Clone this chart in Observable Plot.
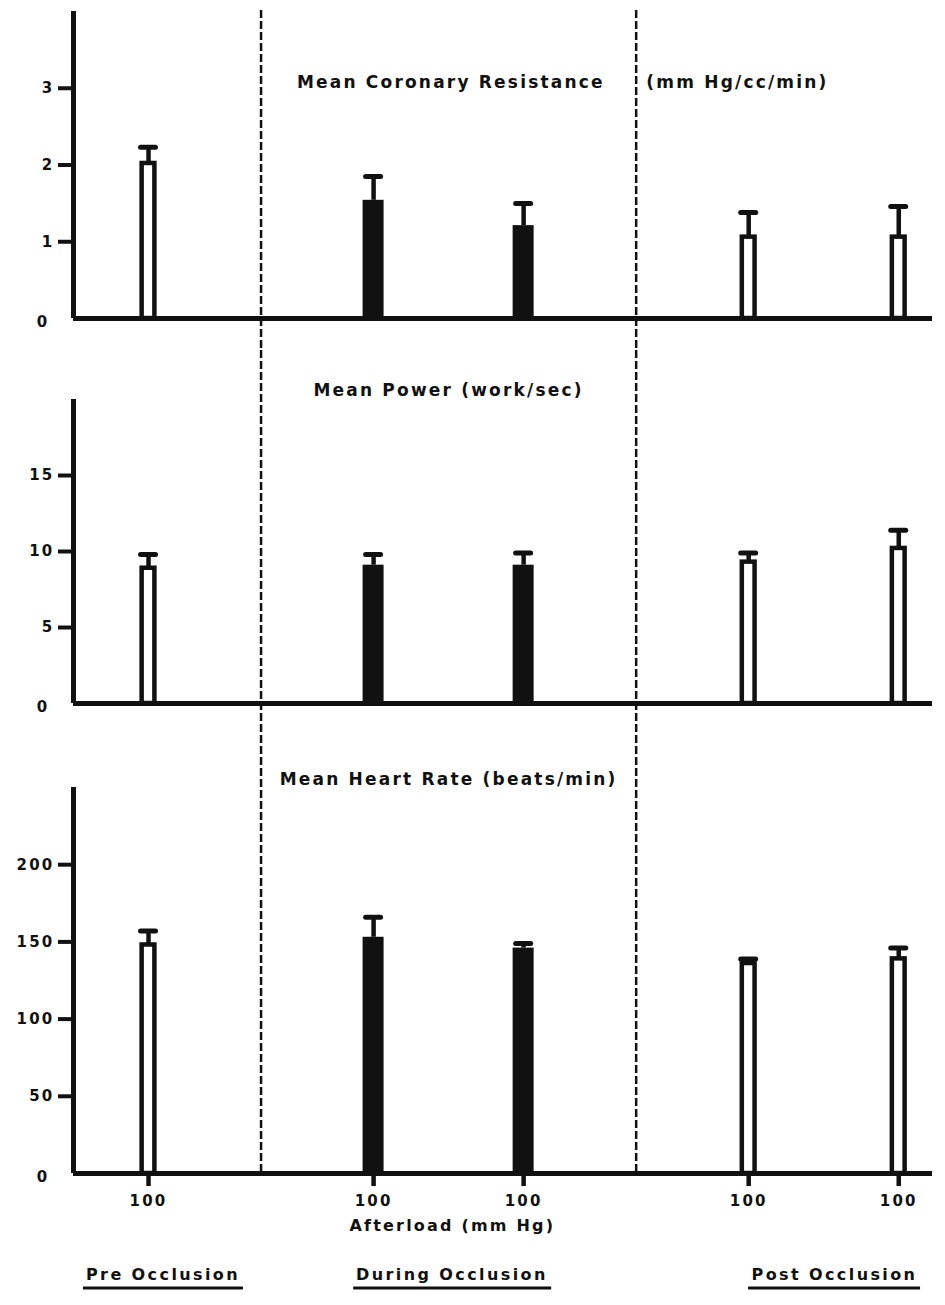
<!DOCTYPE html>
<html>
<head>
<meta charset="utf-8">
<script src="https://cdn.jsdelivr.net/npm/d3@7"></script>
<script src="https://cdn.jsdelivr.net/npm/@observablehq/plot@0.6"></script>
<style>
  body { margin: 0; background: #fff; }
  #chart { position: relative; width: 945px; background: #fff; }
  #chart svg { display: block; }
  #phases { position: relative; width: 945px; height: 60px; }
  #phases span {
    position: absolute; top: 32px; transform: translate(-50%, -50%);
    font-family: "DejaVu Sans", sans-serif; font-weight: bold; font-size: 16px;
    letter-spacing: 2.4px; color: #111; white-space: nowrap;
    border-bottom: 3px solid #111; padding: 0 3px 3px 3px;
  }
</style>
</head>
<body>
<div id="chart"></div>
<script>
// ---- data ----
const conditions = ["Pre 100", "During 100 (a)", "During 100 (b)", "Post 100 (a)", "Post 100 (b)"];
const slots = [2, 5, 7, 10, 12];               // x position of each condition
const afterload = [100, 100, 100, 100, 100];    // x tick labels (mm Hg)
const filled = [false, true, true, false, false];
const phaseBoundaries = [3.5, 8.5];
const phaseNames = ["Pre Occlusion", "During Occlusion", "Post Occlusion"];
const phaseLabelSlots = [2.2, 6.05, 11.15];

const resistanceMean = [2.02, 1.54, 1.21, 1.06, 1.06];
const resistanceErr  = [2.23, 1.85, 1.50, 1.38, 1.46];
const resistanceTicks = [0, 1, 2, 3];

const powerMean = [8.9, 9.1, 9.1, 9.3, 10.2];
const powerErr  = [9.8, 9.8, 9.9, 9.9, 11.4];
const powerTicks = [0, 5, 10, 15];

const heartMean = [148, 153, 146, 136, 139];
const heartErr  = [157, 166, 149, 139, 146];
const heartTicks = [0, 50, 100, 150, 200];

const INK = "#111";
const FONT = "DejaVu Sans, sans-serif";
const xDomain = [1, 12.45];
const X_TICK_PX = 13;

function panel(cfg) {
  const rows = slots.map((s, i) => ({
    condition: conditions[i], slot: s, mean: cfg.mean[i], err: cfg.err[i], filled: filled[i], afterload: afterload[i]
  }));
  const open = rows.filter(d => !d.filled);
  const solid = rows.filter(d => d.filled);
  const fmt = d => String(d);
  const unitsPerPx = cfg.yTop / (cfg.yRange[0] - cfg.yRange[1]);
  const marks = [
    Plot.ruleX(phaseBoundaries, {stroke: INK, strokeWidth: 2.5, strokeDasharray: "8,3"}),
    Plot.rect(open, {x1: d => d.slot - 0.085, x2: d => d.slot + 0.085, y1: 0, y2: "mean", fill: "white", stroke: INK, strokeWidth: 4.5}),
    Plot.rect(solid, {x1: d => d.slot - 0.14, x2: d => d.slot + 0.14, y1: 0, y2: "mean", fill: INK}),
    Plot.ruleX(rows, {x: "slot", y1: "mean", y2: "err", stroke: INK, strokeWidth: 4.5}),
    Plot.ruleY(rows, {y: "err", x1: d => d.slot - 0.1, x2: d => d.slot + 0.1, stroke: INK, strokeWidth: 5, strokeLinecap: "round"}),
    Plot.ruleX([xDomain[0]], {y1: 0, y2: cfg.yTop, stroke: INK, strokeWidth: 5}),
    Plot.ruleY([0], {x1: xDomain[0], x2: xDomain[1], stroke: INK, strokeWidth: 5}),
    Plot.axisY(cfg.ticks.filter(v => v !== 0), {tickSize: 15, tickPadding: 4, strokeWidth: 4, label: null, fontSize: 15, fill: INK, tickFormat: fmt}),
    Plot.axisY([0], {tickSize: 0, tickPadding: 24, label: null, fontSize: 15, dy: 4, fill: INK, tickFormat: fmt}),
    Plot.text(cfg.titles, {x: "x", y: "y", text: "text", fontSize: 17, fill: INK})
  ];
  if (cfg.xAxis) {
    marks.push(
      // tick marks hanging below the baseline under each bar
      Plot.ruleX(rows, {x: "slot", y1: 0, y2: -X_TICK_PX * unitsPerPx, stroke: INK, strokeWidth: 4.5}),
      Plot.axisX(slots, {tickSize: 0, tickPadding: 22, label: null, fontSize: 15, fill: INK,
        tickFormat: (d, i) => afterload[i]}),
      Plot.text(["Afterload (mm Hg)"], {x: 6.05, frameAnchor: "bottom", dy: 57, fontSize: 16, fill: INK})
    );
  }
  return Plot.plot({
    width: 945,
    height: cfg.height,
    marginLeft: 73, marginRight: 13,
    marginTop: cfg.marginTop, marginBottom: cfg.marginBottom,
    x: {domain: xDomain, axis: null},
    y: {domain: [0, cfg.yTop], range: cfg.yRange, axis: null},
    style: {fontFamily: FONT, fontWeight: "bold", fontSize: "15px", color: INK, background: "white", letterSpacing: "2.2px", overflow: "visible"},
    marks
  });
}

const chart = document.getElementById("chart");

const p1 = panel({
  mean: resistanceMean, err: resistanceErr, ticks: resistanceTicks, yTop: 4,
  height: 350, marginTop: 10, marginBottom: 0, yRange: [318, 11],
  titles: [{x: 6.03, y: 3.08, text: "Mean Coronary Resistance"}, {x: 9.85, y: 3.08, text: "(mm Hg/cc/min)"}]
});
const p2 = panel({
  mean: powerMean, err: powerErr, ticks: powerTicks, yTop: 20,
  height: 385, marginTop: 0, marginBottom: 0, yRange: [353, 49],
  titles: [{x: 6.0, y: 20.6, text: "Mean Power (work/sec)"}]
});
const p3 = panel({
  mean: heartMean, err: heartErr, ticks: heartTicks, yTop: 250,
  height: 510, marginTop: 0, marginBottom: 72, yRange: [438, 52],
  titles: [{x: 6.0, y: 255, text: "Mean Heart Rate (beats/min)"}],
  xAxis: true
});
chart.append(p1, p2, p3);

// phase labels below the chart, positioned with the chart's own x scale
const xs = p3.scale("x");
const phases = document.createElement("div");
phases.id = "phases";
phaseNames.forEach((name, i) => {
  const s = document.createElement("span");
  s.textContent = name;
  s.style.left = xs.apply(phaseLabelSlots[i]) + "px";
  phases.append(s);
});
chart.append(phases);
</script>
</body>
</html>
